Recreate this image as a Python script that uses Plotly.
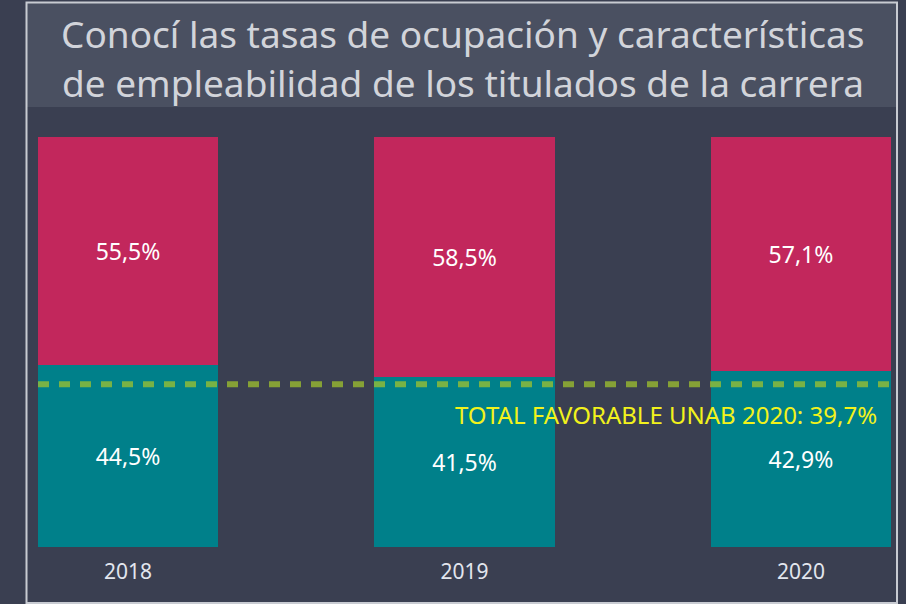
"""
Tasas de ocupación de titulados - barras apiladas
"""
import plotly.graph_objects as go

W, H = 906, 604

years = ["2018", "2019", "2020"]
ocupados = [44.5, 41.5, 42.9]
no_ocupados = [55.5, 58.5, 57.1]
total_unab = 39.7

title_lines = ["Conocí las tasas de ocupación y características",
               "de empleabilidad de los titulados de la carrera"]
ref_label = "TOTAL FAVORABLE UNAB 2020: 39,7%"

BG = "#3a3f51"
BAND = "#4a5061"
TEAL = "#00808a"
CRIMSON = "#c2275c"
FONT = "Noto Sans"


def pct(v):
    return f"{v:.1f}".replace(".", ",") + "%"


def px(x):
    return x / W


def py(y):
    return 1 - y / H


bar_w = 0.535

fig = go.Figure()
fig.add_trace(go.Bar(
    x=years, y=ocupados, width=bar_w,
    marker=dict(color=TEAL, line=dict(width=0)),
    text=[pct(v) for v in ocupados],
    textposition="inside", insidetextanchor="middle",
    textfont=dict(color="white", size=23, family=FONT),
    hoverinfo="skip"
))
fig.add_trace(go.Bar(
    x=years, y=no_ocupados, width=bar_w,
    marker=dict(color=CRIMSON, line=dict(width=0)),
    text=[pct(v) for v in no_ocupados],
    textposition="inside", insidetextanchor="middle",
    textfont=dict(color="white", size=23, family=FONT),
    hoverinfo="skip"
))

# fondo del título y marco
fig.add_shape(type="rect", xref="paper", yref="paper", layer="below",
              x0=px(27), x1=px(896), y0=py(107), y1=py(3),
              fillcolor=BAND, line=dict(width=0))
fig.add_shape(type="rect", xref="paper", yref="paper", layer="below",
              x0=px(26.5), x1=px(897), y0=py(603), y1=py(2.5),
              fillcolor="rgba(0,0,0,0)", line=dict(color="#c8cbd2", width=2))

# línea de referencia
fig.add_shape(type="line", xref="paper", yref="y",
              x0=px(38), x1=px(891), y0=total_unab, y1=total_unab,
              line=dict(color="rgba(160,195,45,0.75)", width=6, dash="11px,10px"))

fig.add_annotation(xref="paper", yref="y", x=px(879), y=total_unab - 7.5,
                   xanchor="right", yanchor="middle", showarrow=False,
                   text=ref_label, font=dict(color="#f2f21c", size=24, family=FONT))

for i, line in enumerate(title_lines):
    fig.add_annotation(xref="paper", yref="paper", x=px(463), y=py(33 + 49 * i),
                       xanchor="center", yanchor="middle", showarrow=False,
                       text=line, font=dict(color="#d2d4da", size=37, family=FONT))

fig.update_layout(
    width=W, height=H,
    barmode="stack",
    showlegend=False,
    paper_bgcolor=BG,
    plot_bgcolor="rgba(0,0,0,0)",
    margin=dict(l=0, r=0, t=0, b=0),
    font=dict(family=FONT),
    xaxis=dict(domain=[px(38), px(891)], range=[-bar_w / 2, 2 + bar_w / 2],
               showgrid=False, zeroline=False, showline=False, ticks="",
               ticklabelstandoff=10,
               tickfont=dict(color="#e2e6ee", size=21), fixedrange=True),
    yaxis=dict(domain=[py(547), py(137)], range=[0, 100], visible=False,
               fixedrange=True),
)

fig.write_html("out.html", config={"displayModeBar": False},
               post_script="document.body.style.margin='0';")
